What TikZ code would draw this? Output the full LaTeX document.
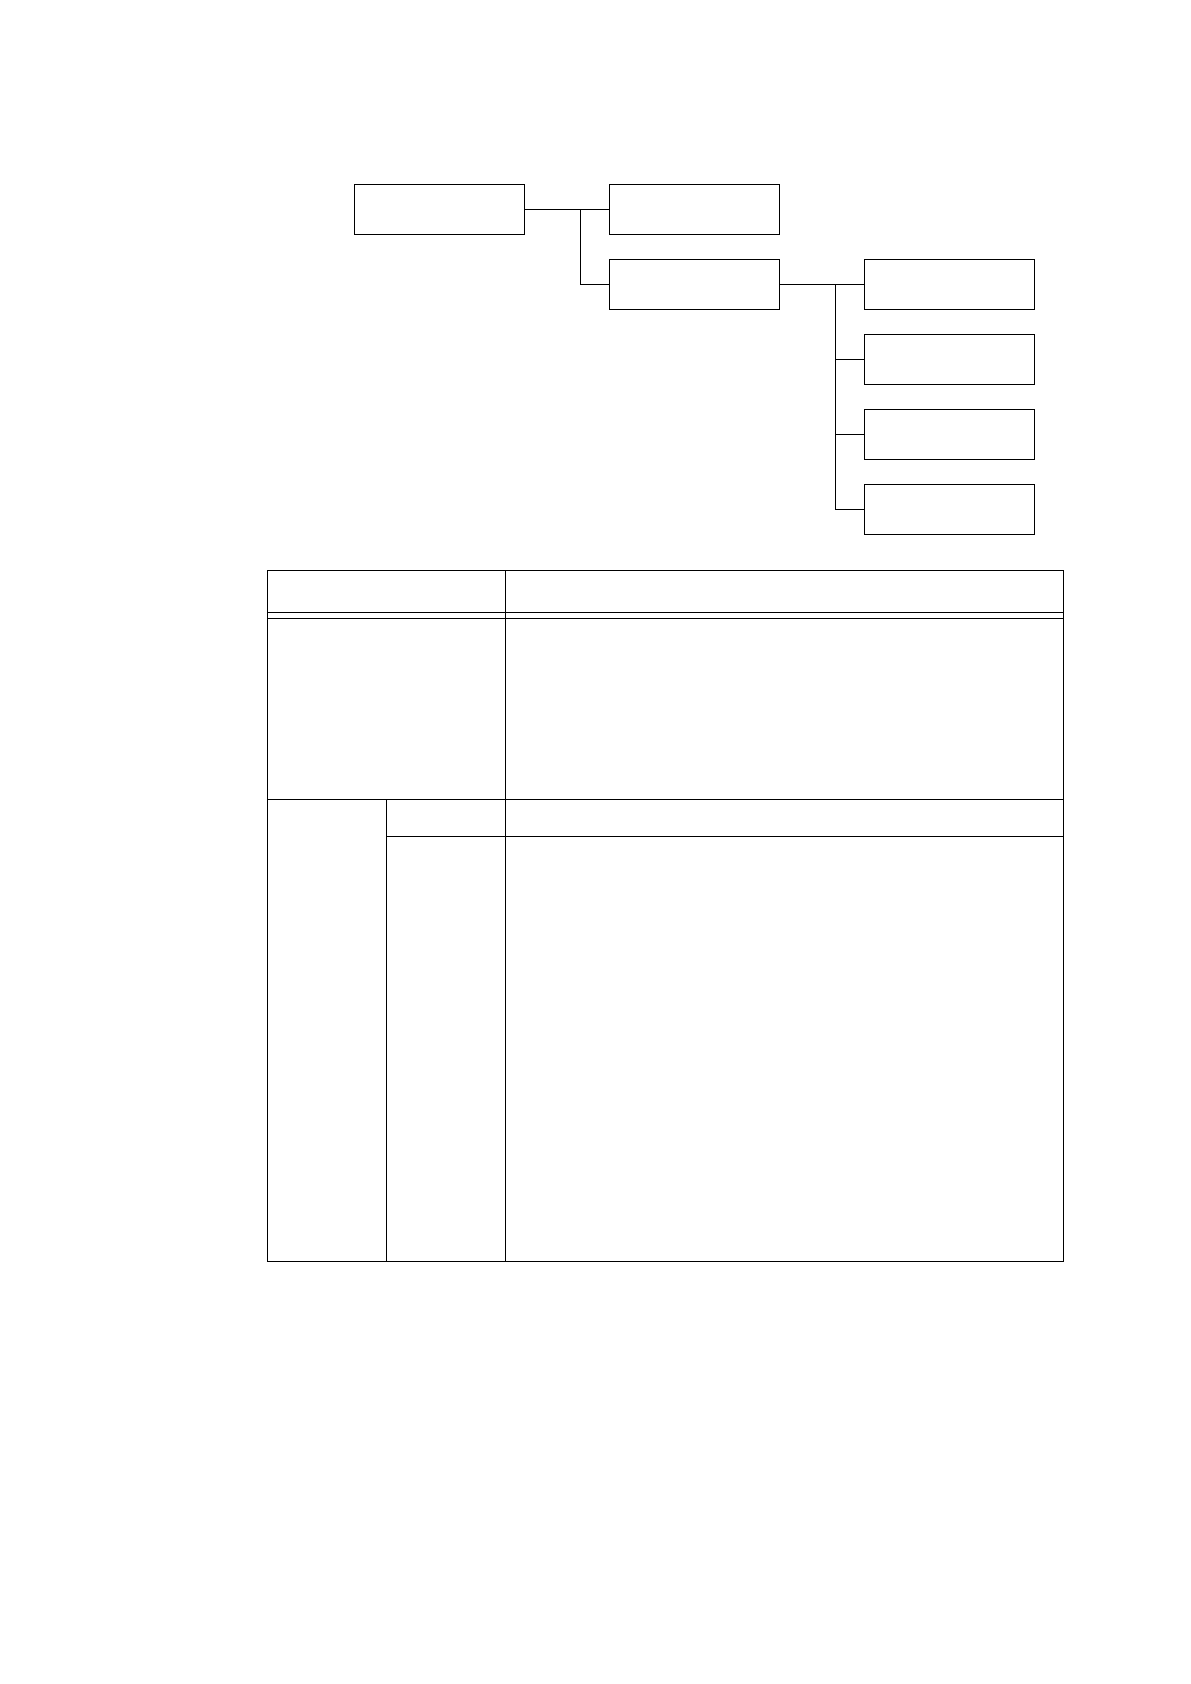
\documentclass[tikz,border=0pt]{standalone}
\begin{document}
\begin{tikzpicture}[x=0.5pt,y=-0.5pt,line width=0.65pt,
  treebox/.style={draw,rectangle,inner sep=0pt,outer sep=0pt,minimum width=85pt,minimum height=25pt,anchor=north west},
  link/.style={draw}]
\useasboundingbox (0,0) rectangle (1190,1684);
% tree
\node[treebox] (root) at (354.3,184.3) {};
\node[treebox] (a) at (609.3,184.3) {};
\node[treebox] (b) at (609.3,259.3) {};
\node[treebox] (b1) at (864.3,259.3) {};
\node[treebox] (b2) at (864.3,334.3) {};
\node[treebox] (b3) at (864.3,409.3) {};
\node[treebox] (b4) at (864.3,484.3) {};
\coordinate (xa) at (580.3,0);
\coordinate (xb) at (835.7,0);
\coordinate (ja) at (root.east -| xa);
\coordinate (jb) at (b.east -| xb);
\draw[link] (root.east) -- (a.west);
\draw[link] (ja) |- (b.west);
\draw[link] (b.east) -- (b1.west);
\draw[link] (jb) |- (b2.west);
\draw[link] (jb) |- (b3.west);
\draw[link] (jb) |- (b4.west);
% table
\draw (267.3,570.3) rectangle (1063.3,1261.3);
\draw (505.3,570.3) -- (505.3,1261.3);
\draw (267.3,612.3) -- (1063.3,612.3);
\draw (267.3,618.3) -- (1063.3,618.3);
\draw (267.3,799.3) -- (1063.3,799.3);
\draw (386.3,799.3) -- (386.3,1261.3);
\draw (386.3,836.3) -- (1063.3,836.3);
\end{tikzpicture}
\end{document}
